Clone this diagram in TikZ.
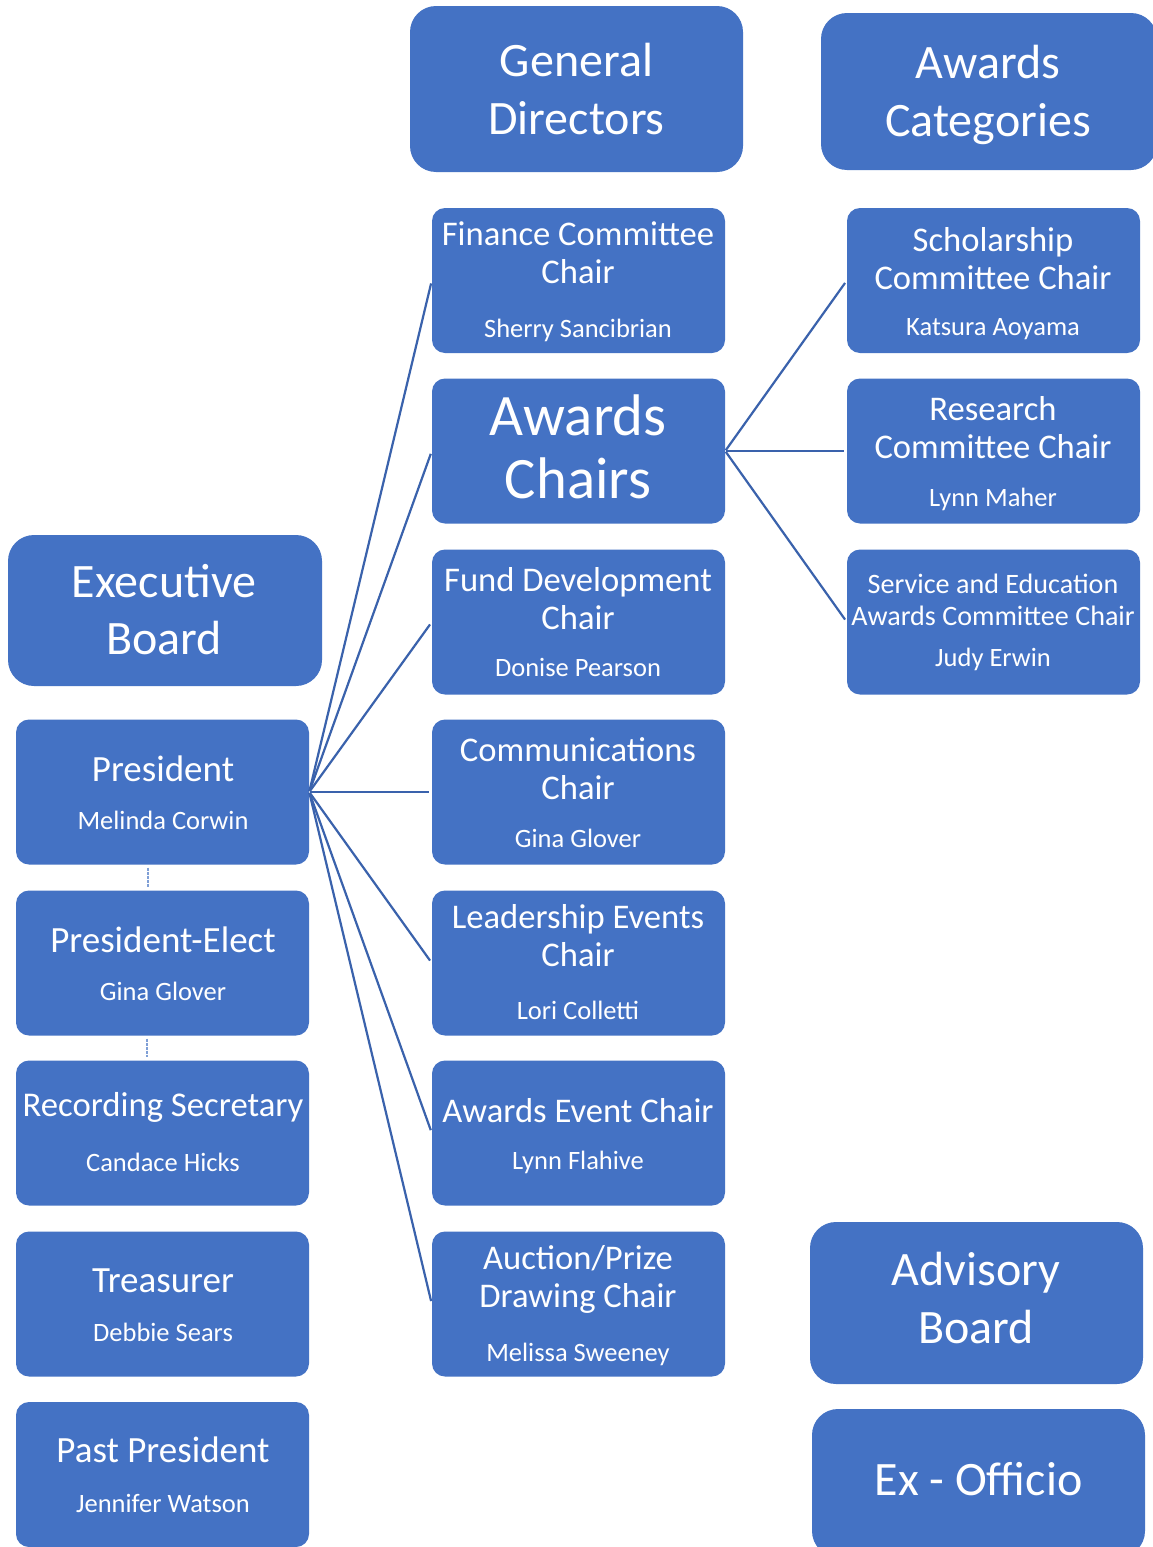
\documentclass[tikz,border=0pt]{standalone}
\usepackage{fontspec}
\setmainfont{Carlito}
\definecolor{boxblue}{HTML}{4472C4}
\definecolor{lineblue}{HTML}{3A62AC}
\definecolor{dashblue}{HTML}{7F9FD6}
\begin{document}
\begin{tikzpicture}[x=1pt,y=-1pt,
  sbox/.style={draw=none, fill=boxblue, rounded corners=13pt, minimum width=293pt, minimum height=145pt, inner sep=0pt},
  bbox/.style={draw=none, fill=boxblue, rounded corners=26pt, inner sep=0pt},
  big/.style={anchor=base, inner sep=0pt, text=white, font=\fontsize{48}{52}\selectfont},
  huge/.style={anchor=base, inner sep=0pt, text=white, font=\fontsize{58.7}{62}\selectfont},
  ttl/.style={anchor=base, inner sep=0pt, text=white, font=\fontsize{34.6}{37}\selectfont},
  lttl/.style={anchor=base, inner sep=0pt, text=white, font=\fontsize{37}{39}\selectfont},
  rsttl/.style={anchor=base, inner sep=0pt, text=white, font=\fontsize{34.7}{37}\selectfont},
  sttl/.style={anchor=base, inner sep=0pt, text=white, font=\fontsize{28.1}{30}\selectfont},
  nm/.style={anchor=base, inner sep=0pt, text=white, font=\fontsize{26.5}{28}\selectfont},
  conn/.style={draw=lineblue, line width=2.2pt, shorten <=1pt, shorten >=3pt},
  dconn/.style={draw=dashblue, line width=2pt, dash pattern=on 3pt off 1pt}
]
\useasboundingbox (0,0) rectangle (1153,1547);
\clip (0,0) rectangle (1153,1547);
\fill[white] (0,0) rectangle (1153,1547);

% big header boxes
\node[bbox, minimum width=333pt, minimum height=166pt] (gd) at (576.5,89) {};
\node[big] (gdA) at (576.5,76) {General};
\node[big] (gdB) at (576.5,134) {Directors};

\node[bbox, minimum width=336pt, minimum height=157pt] (ac) at (989,91.5) {};
\node[big] (acA) at (988,78) {Awards};
\node[big] (acB) at (988,136) {Categories};

\node[bbox, minimum width=314pt, minimum height=151pt] (eb) at (165,610.5) {};
\node[big] (ebA) at (164,597) {Executive};
\node[big] (ebB) at (164,654) {Board};

\node[bbox, minimum width=333pt, minimum height=162pt] (ab) at (976.5,1303) {};
\node[big] (abA) at (976,1285) {Advisory};
\node[big] (abB) at (976,1343) {Board};

\node[bbox, minimum width=333pt, minimum height=148pt] (eo) at (978.5,1483) {};
\node[big] (eoA) at (978.5,1495) {Ex - Officio};

% middle column
\node[sbox] (fin) at (578.5,280.5) {};
\node[ttl] (finA) at (578,245) {Finance Committee};
\node[ttl] (finB) at (578,283) {Chair};
\node[nm] (finC) at (578,337) {Sherry Sancibrian};

\node[sbox] (awc) at (578.5,451) {};
\node[huge] (awcA) at (578,435) {Awards};
\node[huge] (awcB) at (578,498) {Chairs};

\node[sbox] (fund) at (578.5,622) {};
\node[ttl] (fundA) at (578,591) {Fund Development};
\node[ttl] (fundB) at (578,629) {Chair};
\node[nm] (fundC) at (578,676) {Donise Pearson};

\node[sbox] (com) at (578.5,792) {};
\node[ttl] (comA) at (578,761) {Communications};
\node[ttl] (comB) at (578,799) {Chair};
\node[nm] (comC) at (578,847) {Gina Glover};

\node[sbox] (lead) at (578.5,963) {};
\node[ttl] (leadA) at (578,928) {Leadership Events};
\node[ttl] (leadB) at (578,966) {Chair};
\node[nm] (leadC) at (578,1019) {Lori Colletti};

\node[sbox] (aev) at (578.5,1133) {};
\node[ttl] (aevA) at (578,1122) {Awards Event Chair};
\node[nm] (aevC) at (578,1169) {Lynn Flahive};

\node[sbox] (auc) at (578.5,1304) {};
\node[ttl] (aucA) at (578,1269) {Auction/Prize};
\node[ttl] (aucB) at (578,1307) {Drawing Chair};
\node[nm] (aucC) at (578,1361) {Melissa Sweeney};

% right column
\node[sbox] (sch) at (993.5,280.5) {};
\node[ttl] (schA) at (993,251) {Scholarship};
\node[ttl] (schB) at (993,289) {Committee Chair};
\node[nm] (schC) at (993,335) {Katsura Aoyama};

\node[sbox] (res) at (993.5,451) {};
\node[ttl] (resA) at (993,420) {Research};
\node[ttl] (resB) at (993,458) {Committee Chair};
\node[nm] (resC) at (993,506) {Lynn Maher};

\node[sbox] (ser) at (993.5,622) {};
\node[sttl] (serA) at (993,593) {Service and Education};
\node[sttl] (serB) at (993,625) {Awards Committee Chair};
\node[nm] (serC) at (993,666) {Judy Erwin};

% left column
\node[sbox] (pres) at (162.5,792) {};
\node[lttl] (presA) at (163,781) {President};
\node[nm] (presC) at (163,829) {Melinda Corwin};

\node[sbox] (pel) at (162.5,963) {};
\node[lttl] (pelA) at (163,952) {President-Elect};
\node[nm] (pelC) at (163,1000) {Gina Glover};

\node[sbox] (rec) at (162.5,1133) {};
\node[rsttl] (recA) at (163,1116) {Recording Secretary};
\node[nm] (recC) at (163,1171) {Candace Hicks};

\node[sbox] (tre) at (162.5,1304) {};
\node[lttl] (treA) at (163,1292) {Treasurer};
\node[nm] (treC) at (163,1341) {Debbie Sears};

\node[sbox] (past) at (162.5,1474.5) {};
\node[lttl] (pastA) at (163,1462) {Past President};
\node[nm] (pastC) at (163,1512) {Jennifer Watson};

% connectors
\coordinate (hub) at (pres.east);
\foreach \t in {fin,awc,fund,com,lead,aev,auc}
  \draw[conn] (hub) -- (\t.west);
\coordinate (hub2) at (awc.east);
\foreach \t in {sch,res,ser}
  \draw[conn] (hub2) -- (\t.west);

\draw[dconn] ([xshift=-15pt,yshift=-3pt]pres.south) -- ([xshift=-15pt,yshift=3pt]pel.north);
\draw[dconn] ([xshift=-16pt,yshift=-3pt]pel.south) -- ([xshift=-16pt,yshift=3pt]rec.north);
\end{tikzpicture}
\end{document}
